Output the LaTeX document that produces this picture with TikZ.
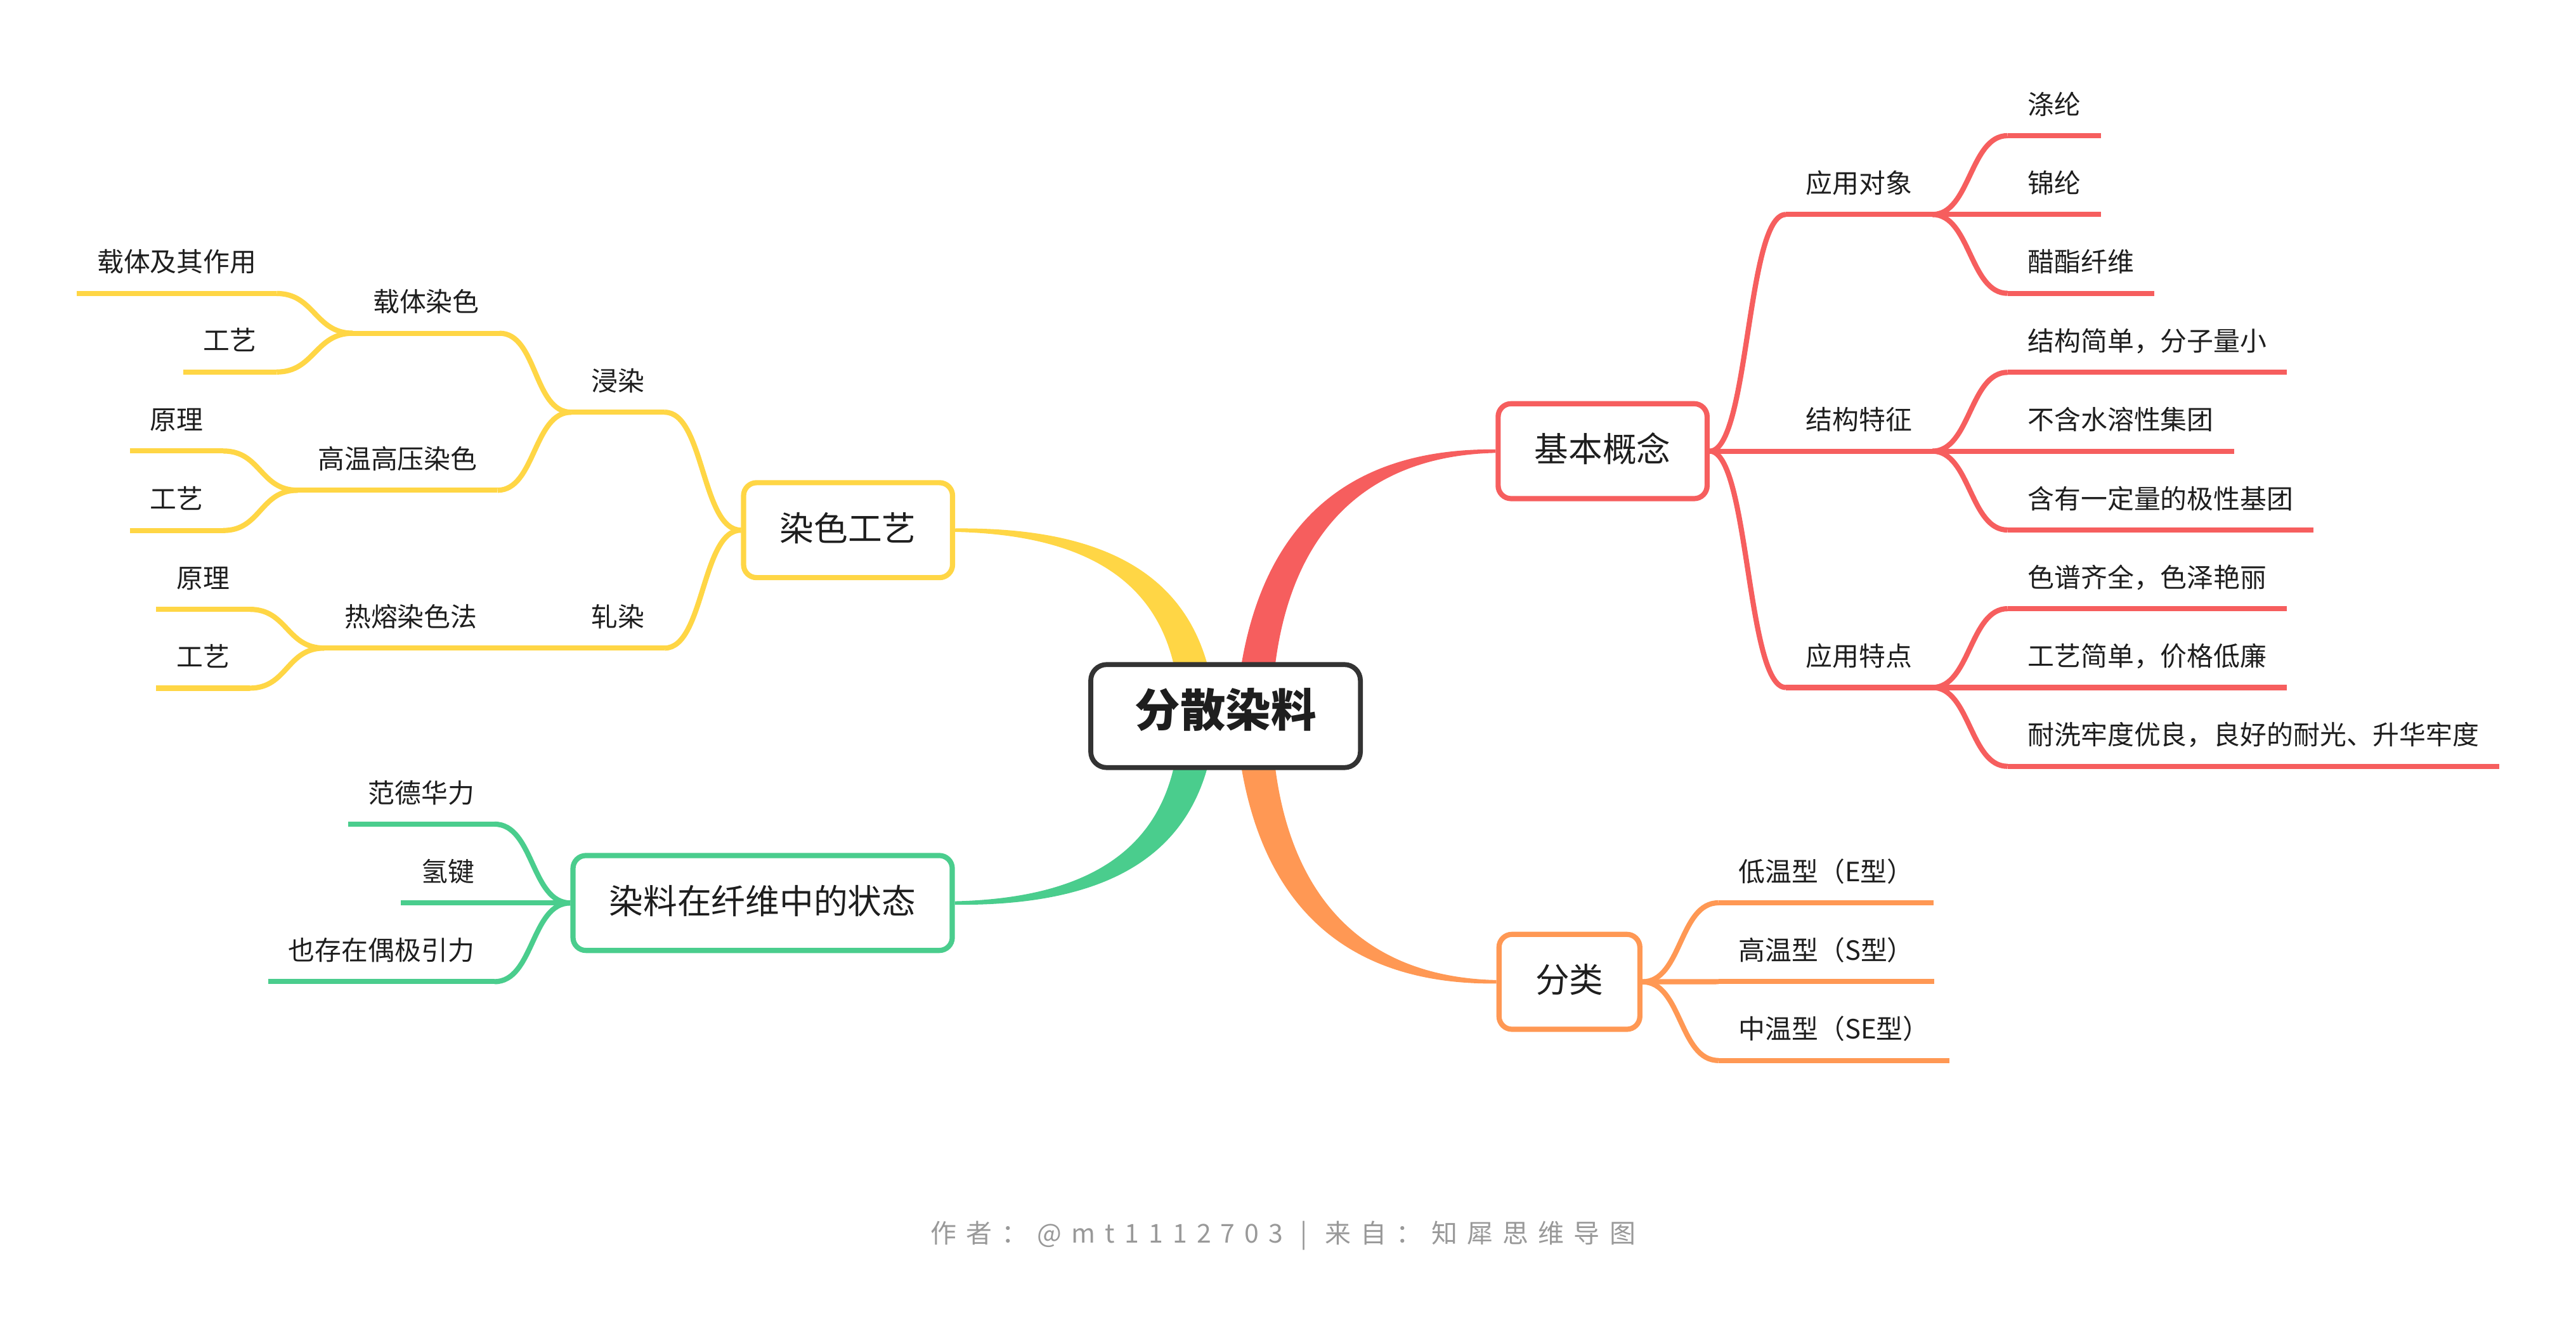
\documentclass[tikz,border=0pt]{standalone}
\usepackage{fontspec}
\setmainfont{Noto Sans CJK SC}
\usetikzlibrary{calc,backgrounds}
\definecolor{rootline}{RGB}{51,51,51}
\definecolor{inkc}{RGB}{30,30,30}
\definecolor{redc}{RGB}{246,94,94}
\definecolor{orangec}{RGB}{255,152,84}
\definecolor{yellowc}{RGB}{255,214,69}
\definecolor{greenc}{RGB}{74,205,141}
\definecolor{footc}{RGB}{153,153,153}

\newcommand{\fsleaf}{\fontsize{9.2pt}{11pt}\selectfont}
\newcommand{\fsmain}{\fontsize{11.8pt}{14pt}\selectfont}
\newcommand{\fsroot}{\fontsize{15.7pt}{18pt}\selectfont\bfseries}
\newcommand{\fsfoot}{\fontsize{9pt}{10pt}\selectfont\addfontfeatures{LetterSpace=37}}

\tikzset{
  every node/.style={text=inkc, text height=.88em, text depth=.12em},
  rootbox/.style={draw=rootline, line width=1.7pt, rounded corners=5.5pt, fill=white,
    font=\fsroot, inner xsep=15.3pt, minimum height=35.7pt},
  mainbox/.style={draw=#1, line width=1.8pt, rounded corners=4.5pt, fill=white,
    font=\fsmain, inner xsep=12.6pt, minimum height=32.9pt},
  leaf/.style={font=\fsleaf, inner xsep=6.8pt, inner ysep=6.06pt},
  link/.style={draw=#1, line width=1.8pt},
}

\begin{document}
\begin{tikzpicture}[x=0.02cm, y=-0.02cm]
\useasboundingbox (0,0) rectangle (1568,811);

% root and main topics
\node[rootbox] (root) at (746,436) {分散染料};
\node[mainbox=redc] (jbgn) at (975.5,274.7) {基本概念};
\node[mainbox=orangec] (fl) at (955.3,597.8) {分类};
\node[mainbox=yellowc] (rsgy) at (516.2,322.8) {染色工艺};
\node[mainbox=greenc] (zt) at (464.2,549.8) {染料在纤维中的状态};

% trunks from the root
\begin{scope}[on background layer]
  \fill[redc] ($(root.center)+(6,0)$) .. controls +(7,-106) and +(-100,-1) .. ([yshift=.6pt]jbgn.west)
    -- ([yshift=-.6pt]jbgn.west) .. controls +(-88,2) and +(2,-101) .. ($(root.center)+(28,0)$) -- cycle;
  \fill[orangec] ($(root.center)+(6,0)$) .. controls +(7,106) and +(-100,1) .. ([yshift=-.6pt]fl.west)
    -- ([yshift=.6pt]fl.west) .. controls +(-88,-2) and +(2,101) .. ($(root.center)+(28,0)$) -- cycle;
  \fill[yellowc] ($(root.center)+(-6,0)$) .. controls +(-5,-80) and +(100,-1) .. ([yshift=.6pt]rsgy.east)
    -- ([yshift=-.6pt]rsgy.east) .. controls +(88,2) and +(-1,-76) .. ($(root.center)+(-28,0)$) -- cycle;
  \fill[greenc] ($(root.center)+(-6,0)$) .. controls +(-5,80) and +(100,1) .. ([yshift=-.6pt]zt.east)
    -- ([yshift=.6pt]zt.east) .. controls +(88,-2) and +(-1,76) .. ($(root.center)+(-28,0)$) -- cycle;
\end{scope}

% 基本概念
\node[leaf, anchor=south west] (yydx) at (1087,130.6) {应用对象};
\node[leaf, anchor=south west] (jgtz) at (1087,274.7) {结构特征};
\node[leaf, anchor=south west] (yytd) at (1087,418.6) {应用特点};
\node[leaf, anchor=south west] (dl) at (1222,82.6) {涤纶};
\node[leaf, anchor=south west] (jl) at (1222,130.6) {锦纶};
\node[leaf, anchor=south west] (czxw) at (1222,178.6) {醋酯纤维};
\node[leaf, anchor=south west] (jgjd) at (1222,226.7) {结构简单，分子量小};
\node[leaf, anchor=south west] (bhss) at (1222,274.7) {不含水溶性集团};
\node[leaf, anchor=south west] (hyyd) at (1222,322.7) {含有一定量的极性基团};
\node[leaf, anchor=south west] (spqq) at (1222,370.6) {色谱齐全，色泽艳丽};
\node[leaf, anchor=south west] (gyjd) at (1222,418.6) {工艺简单，价格低廉};
\node[leaf, anchor=south west] (nxld) at (1222,466.6) {耐洗牢度优良，良好的耐光、升华牢度};

\draw[link=redc] (jbgn.east) .. controls +(24,0) and +(-24,0) .. (yydx.south west);
\draw[link=redc] (jbgn.east) -- (jgtz.south west);
\draw[link=redc] (jbgn.east) .. controls +(24,0) and +(-24,0) .. (yytd.south west);
\draw[link=redc] (yydx.south east) .. controls +(23,0) and +(-23,0) .. (dl.south west);
\draw[link=redc] (yydx.south east) -- (jl.south west);
\draw[link=redc] (yydx.south east) .. controls +(23,0) and +(-23,0) .. (czxw.south west);
\draw[link=redc] (jgtz.south east) .. controls +(23,0) and +(-23,0) .. (jgjd.south west);
\draw[link=redc] (jgtz.south east) -- (bhss.south west);
\draw[link=redc] (jgtz.south east) .. controls +(23,0) and +(-23,0) .. (hyyd.south west);
\draw[link=redc] (yytd.south east) .. controls +(23,0) and +(-23,0) .. (spqq.south west);
\draw[link=redc] (yytd.south east) -- (gyjd.south west);
\draw[link=redc] (yytd.south east) .. controls +(23,0) and +(-23,0) .. (nxld.south west);
\foreach \n in {yydx,jgtz,yytd,dl,jl,czxw,jgjd,bhss,hyyd,spqq,gyjd,nxld}
  \draw[link=redc] (\n.south west) -- (\n.south east);

% 分类
\node[leaf, anchor=south west] (dwx) at (1046,549.7) {低温型（E型）};
\node[leaf, anchor=south west] (gwx) at (1046,597.7) {高温型（S型）};
\node[leaf, anchor=south west] (zwx) at (1046,645.7) {中温型（SE型）};

\draw[link=orangec] (fl.east) .. controls +(24,0) and +(-24,0) .. (dwx.south west);
\draw[link=orangec] (fl.east) -- (gwx.south west);
\draw[link=orangec] (fl.east) .. controls +(24,0) and +(-24,0) .. (zwx.south west);
\foreach \n in {dwx,gwx,zwx}
  \draw[link=orangec] (\n.south west) -- (\n.south east);

% 染色工艺
\node[leaf, anchor=south east] (jr) at (404.6,251) {浸染};
\node[leaf, anchor=south east] (zr) at (404.6,394.6) {轧染};
\node[leaf, anchor=south east] (ztrs) at (304,202.9) {载体染色};
\node[leaf, anchor=south east] (gwgy) at (302.8,298.5) {高温高压染色};
\node[leaf, anchor=south east] (rrrs) at (302.8,394.6) {热熔染色法};
\node[leaf, anchor=south east] (ztjq) at (168.4,178.7) {载体及其作用};
\node[leaf, anchor=south east] (gy1) at (168.4,226.5) {工艺};
\node[leaf, anchor=south east] (yl1) at (135.9,274.6) {原理};
\node[leaf, anchor=south east] (gy2) at (135.9,323) {工艺};
\node[leaf, anchor=south east] (yl2) at (152,371) {原理};
\node[leaf, anchor=south east] (gy3) at (152,419) {工艺};

\draw[link=yellowc] (rsgy.west) .. controls +(-24,0) and +(24,0) .. (jr.south east);
\draw[link=yellowc] (rsgy.west) .. controls +(-24,0) and +(24,0) .. (zr.south east);
\draw[link=yellowc] (jr.south west) .. controls +(-23,0) and +(23,0) .. (ztrs.south east);
\draw[link=yellowc] (jr.south west) .. controls +(-23,0) and +(23,0) .. (gwgy.south east);
\draw[link=yellowc] (zr.south west) -- (rrrs.south east);
\draw[link=yellowc] (ztrs.south west) .. controls +(-23,0) and +(23,0) .. (ztjq.south east);
\draw[link=yellowc] (ztrs.south west) .. controls +(-23,0) and +(23,0) .. (gy1.south east);
\draw[link=yellowc] (gwgy.south west) .. controls +(-23,0) and +(23,0) .. (yl1.south east);
\draw[link=yellowc] (gwgy.south west) .. controls +(-23,0) and +(23,0) .. (gy2.south east);
\draw[link=yellowc] (rrrs.south west) .. controls +(-23,0) and +(23,0) .. (yl2.south east);
\draw[link=yellowc] (rrrs.south west) .. controls +(-23,0) and +(23,0) .. (gy3.south east);
\foreach \n in {jr,zr,ztrs,gwgy,rrrs,ztjq,gy1,yl1,gy2,yl2,gy3}
  \draw[link=yellowc] (\n.south west) -- (\n.south east);

% 染料在纤维中的状态
\node[leaf, anchor=south east] (fdhl) at (301,501.8) {范德华力};
\node[leaf, anchor=south east] (qj) at (301,549.8) {氢键};
\node[leaf, anchor=south east] (ycz) at (301,597.7) {也存在偶极引力};

\draw[link=greenc] (zt.west) .. controls +(-24,0) and +(24,0) .. (fdhl.south east);
\draw[link=greenc] (zt.west) -- (qj.south east);
\draw[link=greenc] (zt.west) .. controls +(-24,0) and +(24,0) .. (ycz.south east);
\foreach \n in {fdhl,qj,ycz}
  \draw[link=greenc] (\n.south west) -- (\n.south east);

% footer
\node[font=\fsfoot, text=footc] (foot) at (781,750) {作者：@mt1112703\hspace{6pt}|\hspace{6pt}来自：知犀思维导图};
\end{tikzpicture}
\end{document}
